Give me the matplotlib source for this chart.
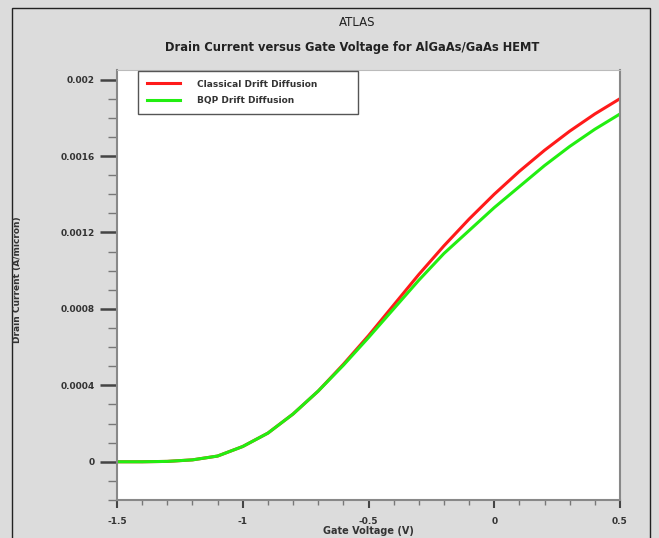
import matplotlib
matplotlib.use("Agg")
import matplotlib.pyplot as plt
from matplotlib.patches import Rectangle
from matplotlib.ticker import MultipleLocator

# gate voltage sweep (V)
gate_v = [-1.5, -1.4, -1.3, -1.2, -1.1, -1.0, -0.9, -0.8, -0.7, -0.6, -0.5,
          -0.4, -0.3, -0.2, -0.1, 0.0, 0.1, 0.2, 0.3, 0.4, 0.5]
# drain current (A/micron)
classical_dd = [0.0, 0.0, 0.000002, 0.00001, 0.00003, 0.00008, 0.00015, 0.00025,
                0.00037, 0.00051, 0.00066, 0.00082, 0.00098, 0.00113, 0.00127,
                0.0014, 0.00152, 0.00163, 0.00173, 0.00182, 0.0019]
bqp_dd = [0.0, 0.0, 0.000002, 0.00001, 0.00003, 0.00008, 0.00015, 0.00025,
          0.00037, 0.000505, 0.00065, 0.0008, 0.00095, 0.00109, 0.00121,
          0.00133, 0.00144, 0.00155, 0.00165, 0.00174, 0.00182]

x_ticks = [-1.5, -1.0, -0.5, 0.0, 0.5]
x_ticklabels = ['-1.5', '-1', '-0.5', '0', '0.5']
y_ticks = [0, 0.0004, 0.0008, 0.0012, 0.0016, 0.002]
y_ticklabels = ['0', '0.0004', '0.0008', '0.0012', '0.0016', '0.002']

W, H = 659, 538
fig = plt.figure(figsize=(W / 100, H / 100), dpi=100)
fig.patch.set_facecolor('#dcdcdc')

# outer frame
fig.patches.append(Rectangle((12 / W, -0.05), (650 - 12) / W, 1.05 - 8 / H,
                             transform=fig.transFigure, fill=False,
                             edgecolor='#222222', linewidth=1.0))

ax = fig.add_axes([117 / W, 1 - 500 / H, (620 - 117) / W, (500 - 70) / H])
ax.set_facecolor('white')

ax.plot(gate_v, classical_dd, color='#ff1a1a', linewidth=2.2, label='Classical Drift Diffusion')
ax.plot(gate_v, bqp_dd, color='#22ee11', linewidth=2.2, label='BQP Drift Diffusion')

ax.set_xlim(-1.5, 0.5)
ax.set_ylim(-0.0002, 0.00205)

ax.set_xticks(x_ticks)
ax.set_xticklabels(x_ticklabels)
ax.set_yticks(y_ticks)
ax.set_yticklabels(y_ticklabels)
ax.xaxis.set_minor_locator(MultipleLocator(0.1))
ax.yaxis.set_minor_locator(MultipleLocator(0.0001))

ax.tick_params(axis='x', which='major', direction='out', length=6, width=1.5,
               color='#444444', labelsize=6.5, pad=6, labelcolor='#333333')
ax.tick_params(axis='x', which='minor', direction='out', length=3.5, width=1,
               color='#777777')
ax.tick_params(axis='y', which='major', direction='out', length=12, width=1.8,
               color='#444444', labelsize=6.5, pad=4, labelcolor='#333333')
ax.tick_params(axis='y', which='minor', direction='out', length=6.5, width=1,
               color='#777777')
for lab in ax.get_xticklabels() + ax.get_yticklabels():
    lab.set_fontweight('bold')

for side in ['left', 'bottom', 'right']:
    ax.spines[side].set_color('#888888')
    ax.spines[side].set_linewidth(1.5)
ax.spines['top'].set_color('#bbbbbb')

ax.set_xlabel('Gate Voltage (V)', fontsize=7, fontweight='bold', color='#333333', labelpad=0)
fig.text(18 / W, 1 - 280 / H, 'Drain Current (A/micron)', rotation=90, fontsize=6.5,
         fontweight='bold', color='#333333', ha='center', va='center')

fig.text(357 / W, 1 - 23 / H, 'ATLAS', fontsize=8.5, color='#222222', ha='center', va='center')
fig.text(352 / W, 1 - 47 / H, 'Drain Current versus Gate Voltage for AlGaAs/GaAs HEMT',
         fontsize=8.3, fontweight='bold', color='#222222', ha='center', va='center')

leg = ax.legend(loc='upper left', mode='expand',
                bbox_to_anchor=(133 / W, 1 - 119 / H, (363 - 133) / W, (119 - 66) / H),
                bbox_transform=fig.transFigure, fancybox=False, framealpha=1,
                edgecolor='#555555', handlelength=3.7, handletextpad=1.9,
                labelspacing=0.8, borderpad=1.0, prop={'size': 6.5, 'weight': 'bold'})
leg.get_frame().set_linewidth(1.0)
for t in leg.get_texts():
    t.set_color('#333333')

fig.savefig('out.png', dpi=100, facecolor=fig.get_facecolor())
